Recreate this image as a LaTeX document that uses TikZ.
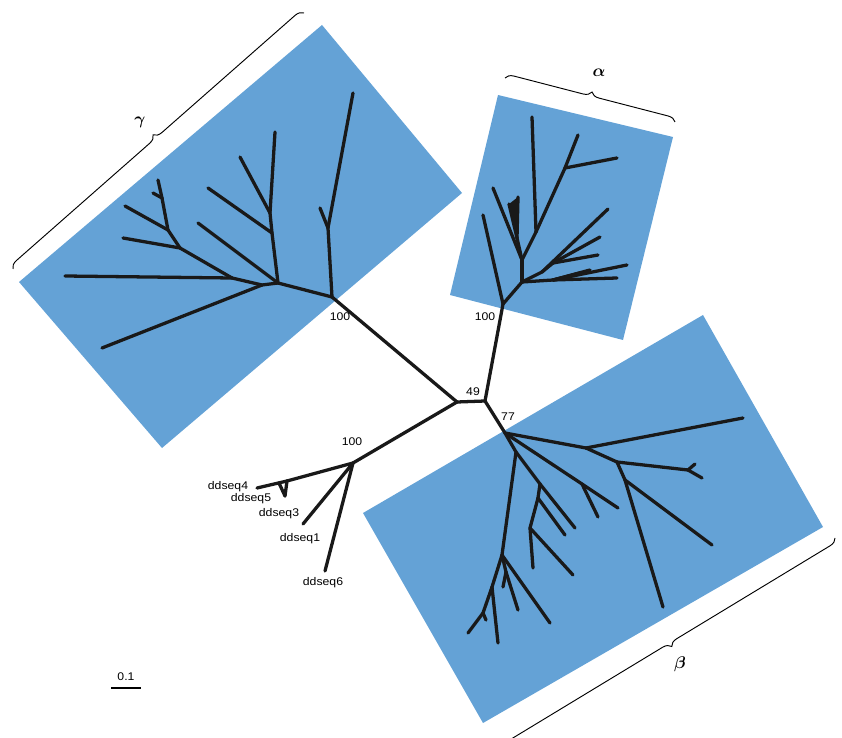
\documentclass[tikz,border=0pt]{standalone}
\usepackage{fontspec}
\usepackage{bm}
\usetikzlibrary{decorations.pathreplacing}
\newfontfamily\labfont[FakeStretch=1.1]{Liberation Sans}
\definecolor{cladeblue}{RGB}{100,162,214}
\tikzset{
  clade/.style={fill=cladeblue, draw=none},
  branch/.style={line width=2.8pt, line cap=round, line join=round, draw=black!90},
  brk/.style={decorate, decoration={brace, amplitude=7pt}, line width=0.8pt},
  lab/.style={font=\labfont\fontsize{9.5}{11}\selectfont, inner sep=0pt},
  greek/.style={font=\fontsize{14}{16}\selectfont, inner sep=0pt},
}
\begin{document}
\begin{tikzpicture}[x=0.03cm, y=-0.03cm]
\useasboundingbox (0,0) rectangle (842,738);
\clip (0,0) rectangle (842,738);

% clade rectangles
\fill[clade] (322,25) -- (462,193) -- (162,448) -- (19,282) -- cycle;
\fill[clade] (498,95) -- (673,137) -- (623,340) -- (450,295) -- cycle;
\fill[clade] (703,315) -- (823,527) -- (483,723) -- (363,513) -- cycle;

% braces
\coordinate (gb1) at (13,269);  \coordinate (gb2) at (304,13);
\coordinate (ab1) at (505,78);  \coordinate (ab2) at (675,122);
\coordinate (bb1) at (835,538); \coordinate (bb2) at (500,741);
\draw[brk] (gb1) -- (gb2);
\draw[brk] (ab1) -- (ab2);
\draw[brk] (bb1) -- (bb2);
\node[greek] (lg) at (140,122) {$\bm{\gamma}$};
\node[greek] (la) at (599,73) {$\bm{\alpha}$};
\node[greek] (lb) at (680,664) {$\bm{\beta}$};

% central junctions and clade roots
\coordinate (J1) at (457,402);
\coordinate (J2) at (485,401);
\coordinate (G0) at (332,297);
\coordinate (A0) at (503,304);
\coordinate (B0) at (505,433);
\coordinate (D0) at (353,463);

% gamma
\coordinate (g1) at (328,228); \coordinate (g1a) at (320,208); \coordinate (g1b) at (353,93);
\coordinate (g2) at (278,283);
\coordinate (g3) at (272,233); \coordinate (g3a) at (208,188);
\coordinate (g4) at (270,213); \coordinate (g4a) at (240,157); \coordinate (g4b) at (275,132);
\coordinate (g5) at (198,223);
\coordinate (g6) at (262,285); \coordinate (g6a) at (102,348);
\coordinate (g7) at (232,278); \coordinate (g7a) at (65,276);
\coordinate (g8) at (180,248); \coordinate (g8a) at (123,238);
\coordinate (g9) at (168,230); \coordinate (g9a) at (125,206);
\coordinate (g10) at (162,198); \coordinate (g10a) at (153,193); \coordinate (g10b) at (158,180);

% alpha
\coordinate (a1) at (483,215);
\coordinate (A1) at (522,282);
\coordinate (A2) at (522,260);
\coordinate (a5) at (493,188);
\coordinate (aw) at (517,238); \coordinate (aw1) at (509,204); \coordinate (aw2) at (518,197);
\coordinate (A3) at (536,232); \coordinate (a3t) at (532,117);
\coordinate (A4) at (565,168); \coordinate (a4a) at (578,135); \coordinate (a4b) at (617,158);
\coordinate (C1) at (542,272); \coordinate (c1t) at (608,209);
\coordinate (C2) at (553,263); \coordinate (c2a) at (600,237); \coordinate (c2b) at (598,255);
\coordinate (C3) at (553,280); \coordinate (c3a) at (627,265); \coordinate (c3b) at (617,278);
\coordinate (c3c) at (590,270); \coordinate (c3d) at (580,273);

% beta
\coordinate (b1) at (586,448); \coordinate (b1t) at (743,418);
\coordinate (b2) at (617,462);
\coordinate (b4) at (688,470); \coordinate (b4a) at (695,464); \coordinate (b4b) at (702,478);
\coordinate (b3) at (625,480); \coordinate (b3a) at (712,545); \coordinate (b3b) at (663,607);
\coordinate (f1) at (582,484); \coordinate (f1a) at (618,508); \coordinate (f1b) at (598,517);
\coordinate (D1) at (516,452);
\coordinate (E1) at (540,484); \coordinate (E1a) at (575,528);
\coordinate (E2) at (538,498); \coordinate (E2a) at (565,535);
\coordinate (E3) at (530,528); \coordinate (E3a) at (533,568); \coordinate (E3b) at (573,575);
\coordinate (D2) at (502,555); \coordinate (D2a) at (550,623);
\coordinate (D4) at (506,572); \coordinate (D4a) at (518,610); \coordinate (D4b) at (503,587);
\coordinate (D3) at (492,587); \coordinate (D3a) at (498,643);
\coordinate (D5) at (483,613); \coordinate (D5a) at (468,633); \coordinate (D5b) at (486,620);

% ddseq
\coordinate (h1) at (287,481); \coordinate (h4) at (257,488); \coordinate (h5) at (285,496);
\coordinate (h7) at (279,483);
\coordinate (h3) at (303,524); \coordinate (h6) at (325,571);

\foreach \p/\q in {J1/J2, J1/G0, J2/A0, J2/B0, J1/D0,
  G0/g1, g1/g1a, g1/g1b, G0/g2, g2/g3, g3/g3a, g3/g4, g4/g4a, g4/g4b, g2/g5,
  g2/g6, g6/g6a, g6/g7, g7/g7a, g7/g8, g8/g8a, g8/g9, g9/g9a, g9/g10, g10/g10a, g10/g10b,
  A0/a1, A0/A1, A1/A2, A2/a5, A2/aw, aw/aw1, aw/aw2, A2/A3, A3/a3t, A3/A4, A4/a4a, A4/a4b,
  A1/C1, C1/c1t, C1/C2, C2/c2a, C2/c2b, A1/C3, C3/c3a, C3/c3b, C3/c3c, C3/c3d,
  B0/b1, b1/b1t, b1/b2, b2/b4, b4/b4a, b4/b4b, b2/b3, b3/b3a, b3/b3b,
  B0/f1, f1/f1a, f1/f1b, B0/D1, D1/E1, E1/E1a, E1/E2, E2/E2a, E2/E3, E3/E3a, E3/E3b,
  D1/D2, D2/D2a, D2/D4, D4/D4a, D4/D4b, D2/D3, D3/D3a, D3/D5, D5/D5a, D5/D5b,
  D0/h1, h1/h4, h1/h5, h5/h7, D0/h3, D0/h6}
  \draw[branch] (\p) -- (\q);
\fill[black!90] (aw) -- (aw1) -- (aw2) -- cycle;

% support values
\node[lab] (n1) at (340,317) {100};
\node[lab] (n2) at (485,317) {100};
\node[lab] (n3) at (473,392) {49};
\node[lab] (n4) at (508,417) {77};
\node[lab] (n5) at (352,442) {100};

% sequence labels
\node[lab] (s4) at (228,487) {ddseq4};
\node[lab] (s5) at (251,499) {ddseq5};
\node[lab] (s3) at (279,514) {ddseq3};
\node[lab] (s1) at (300,539) {ddseq1};
\node[lab] (s6) at (323,583) {ddseq6};

% scale bar
\node[lab] (sc) at (126,677) {0.1};
\coordinate (sb1) at (111,688); \coordinate (sb2) at (141,688);
\draw[line width=1pt] (sb1) -- (sb2);
\end{tikzpicture}
\end{document}
